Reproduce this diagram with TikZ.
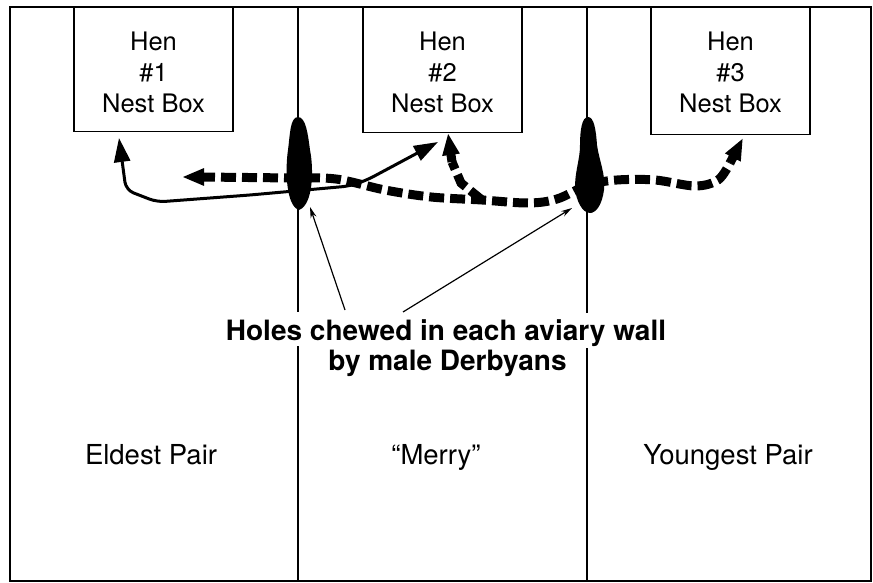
\documentclass[tikz,border=0pt]{standalone}
\usepackage{fontspec}
\setmainfont{TeX Gyre Heros}
\usetikzlibrary{arrows.meta}
\begin{document}
\begin{tikzpicture}[x=1pt,y=-1pt,
  frame/.style={line width=1.8pt},
  wall/.style={line width=1.4pt},
  nestbox/.style={draw,line width=1.4pt,minimum width=159pt,minimum height=124pt,anchor=north,inner sep=0pt},
  boxtext/.style={align=center,inner sep=0pt,font=\fontsize{25.5}{31}\selectfont},
  pen/.style={font=\fontsize{27.5}{33}\selectfont,anchor=base,inner sep=0pt},
  boldlabel/.style={font=\fontsize{28}{30}\selectfont\bfseries,anchor=base,inner sep=0pt},
  flight/.style={line width=3pt,line join=round,{Triangle[length=24pt,width=16pt]}-{Triangle[length=24pt,width=16pt]}},
  dashflight/.style={line width=9pt,dash pattern=on 15pt off 6pt},
  dashtip/.style={-{Triangle[length=22pt,width=16pt]}},
  callout/.style={line width=1.2pt,-{Stealth[length=11pt,width=6pt]}}
]
\useasboundingbox (0,0) rectangle (873,583);

% frame and walls
\draw[frame] (10,7) rectangle (871,581);
\draw[wall] (298,7) -- (298,312) (298,346) -- (298,581);
\draw[wall] (587,7) -- (587,313) (587,348) -- (587,581);

% nest boxes
\node[nestbox,fill=white] (nb1) at (153.5,7) {};
\node[nestbox,fill=white,minimum height=125pt] (nb2) at (442.5,7) {};
\node[nestbox,fill=white,minimum height=127pt] (nb3) at (730.5,7) {};
\node[boxtext] (t1) at (153.5,72) {Hen\\\#1\\Nest Box};
\node[boxtext] (t2) at (442.5,72) {Hen\\\#2\\Nest Box};
\node[boxtext] (t3) at (730.5,72) {Hen\\\#3\\Nest Box};

% solid flight path (hen 1 <-> hen 2)
\coordinate (s1) at (119,138);
\coordinate (s2) at (438,142);
\draw[flight,rounded corners=8pt] (s1) -- (126,190) -- (157,202)
  -- (250,195) -- (350,186) -- (367,180) -- (s2);

% dashed flight path (left end <-> hen 3)
\coordinate (d1) at (182,177);
\coordinate (d2) at (743,138);
\draw[dashflight] plot[smooth,tension=0.55] coordinates {
  (200,177) (290,178) (336,179) (385,190) (431,197) (482,200)
  (528,203) (557,199) (588,185) (617,180) (655,180) (695,186) (718,180) (730,163)};
\draw[dashflight,dashtip] (204,177) -- (d1);
\draw[dashflight,dashtip] (730,163) -- (d2);
% branch to hen 2
\coordinate (d3) at (448,133);
\draw[dashflight] (482,200) -- (461,183) -- (452,162);
\draw[dashflight,dashtip] (452,162) -- (d3);

% holes chewed in walls (on top of the flight paths)
\fill (298,117) .. controls (306,117) and (308,135) .. (310,150)
  .. controls (314,170) and (313,205) .. (299,210)
  .. controls (286,206) and (285,170) .. (288,150)
  .. controls (290,135) and (290,117) .. (298,117) -- cycle;
\fill (588,117) .. controls (594,117) and (596,130) .. (597,145)
  .. controls (599,160) and (606,175) .. (604,190)
  .. controls (602,205) and (596,213) .. (590,213)
  .. controls (582,213) and (576,200) .. (575,188)
  .. controls (575,170) and (580,160) .. (580,145)
  .. controls (580,130) and (582,117) .. (588,117) -- cycle;

% labels
\node[boldlabel] (h1) at (446,340) {Holes chewed in each aviary wall};
\node[boldlabel] (h2) at (447.5,370) {by male Derbyans};
\coordinate (c1) at (345,310);
\coordinate (c2) at (403,312);
\draw[callout] (c1) -- (310,207);
\draw[callout] (c2) -- (572,208);

\node[pen] (p1) at (151,464) {Eldest Pair};
\node[pen] (p2) at (436,464) {“Merry”};
\node[pen] (p3) at (728,464) {Youngest Pair};
\end{tikzpicture}
\end{document}
